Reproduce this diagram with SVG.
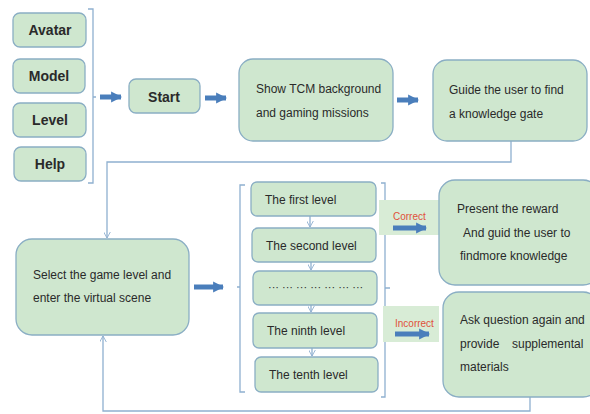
<svg xmlns="http://www.w3.org/2000/svg" width="590" height="414" viewBox="0 0 590 414">
<defs>
<style>
.box{fill:#cfe7cf;stroke:#8aaec4;stroke-width:1.3}
.t{font-family:"Liberation Sans","Open Sans",sans-serif;font-size:12px;fill:#2a2a2a}
.b{font-family:"Liberation Sans","Open Sans",sans-serif;font-size:14px;font-weight:bold;fill:#2a2a2a}
.ln{fill:none;stroke:#8fb0d0;stroke-width:1.3}
.fat{fill:none;stroke:#4a7ebb;stroke-width:5}
.hl{fill:#d8ecd6}
.red{font-family:"Liberation Sans","Open Sans",sans-serif;font-size:10px;fill:#e0503a}
</style>
<marker id="fa" viewBox="0 0 10 10" refX="9" refY="5" markerWidth="2.2" markerHeight="2.6" orient="auto" markerUnits="strokeWidth">
<path d="M0,0 L10,5 L0,10 z" fill="#4a7ebb"/>
</marker>
<marker id="oa" viewBox="0 0 10 10" refX="9" refY="5" markerWidth="7" markerHeight="7" orient="auto" markerUnits="userSpaceOnUse">
<path d="M0,0 L9,5 L0,10" fill="none" stroke="#8fb0d0" stroke-width="1.3"/>
</marker>
</defs>
<rect width="590" height="414" fill="#ffffff"/>
<g id="connectors">
<path class="ln" d="M88,9 H93 V183 H88 M93,97 H96"/>
<path class="ln" d="M245,185 H240 V392 H245 M237,287 H240"/>
<path class="ln" d="M381,183 H385 V397 H381 M385,288 H390"/>
<path class="fat" d="M100,97 H121" marker-end="url(#fa)"/>
<path class="fat" d="M205,98 H226" marker-end="url(#fa)"/>
<path class="fat" d="M397,100 H418" marker-end="url(#fa)"/>
<path class="fat" d="M194,287 H223" marker-end="url(#fa)"/>
<path class="ln" d="M511,141 V162 H107 V238" marker-end="url(#oa)"/>
<path class="ln" d="M530,397 V411 H103 V336" marker-end="url(#oa)"/>
<path class="ln" d="M310,216 V227" marker-end="url(#oa)"/>
<path class="ln" d="M311,262 V270" marker-end="url(#oa)"/>
<path class="ln" d="M311,305 V312" marker-end="url(#oa)"/>
<path class="ln" d="M312,348 V356" marker-end="url(#oa)"/>
<rect class="hl" x="379" y="200" width="60" height="35"/>
<rect class="hl" x="383" y="306" width="56" height="36"/>
<text class="red" x="393" y="220">Correct</text>
<path class="fat" d="M393,228 H426" marker-end="url(#fa)"/>
<text class="red" x="395" y="327">Incorrect</text>
<path class="fat" d="M395,334 H429" marker-end="url(#fa)"/>
</g>
<g id="avatar"><rect class="box" x="13" y="13" width="73" height="34" rx="7"/><text class="b" x="50" y="35" text-anchor="middle">Avatar</text></g>
<g id="model"><rect class="box" x="13" y="59" width="72" height="34" rx="7"/><text class="b" x="49" y="81" text-anchor="middle">Model</text></g>
<g id="level"><rect class="box" x="13" y="103" width="73" height="34" rx="7"/><text class="b" x="50" y="125" text-anchor="middle">Level</text></g>
<g id="help"><rect class="box" x="14" y="147" width="72" height="34" rx="7"/><text class="b" x="50" y="169" text-anchor="middle">Help</text></g>
<g id="start"><rect class="box" x="129" y="79" width="71" height="34" rx="7"/><text class="b" x="164" y="102" text-anchor="middle">Start</text></g>
<g id="show"><rect class="box" x="239" y="59" width="154" height="82" rx="14"/><text class="t" x="256" y="93">Show TCM background</text><text class="t" x="256" y="117">and gaming missions</text></g>
<g id="guide"><rect class="box" x="433" y="60" width="154" height="81" rx="14"/><text class="t" x="449" y="94">Guide the user to find</text><text class="t" x="449" y="118">a knowledge gate</text></g>
<g id="select"><rect class="box" x="16" y="239" width="173" height="96" rx="16"/><text class="t" x="33" y="279">Select the game level and</text><text class="t" x="33" y="302">enter the virtual scene</text></g>
<g id="first"><rect class="box" x="251" y="182" width="125" height="34" rx="6"/><text class="t" x="265" y="204">The first level</text></g>
<g id="second"><rect class="box" x="252" y="228" width="124" height="34" rx="6"/><text class="t" x="266" y="250">The second level</text></g>
<g id="dots"><rect class="box" x="253" y="271" width="124" height="34" rx="6"/><text class="t" x="268" y="291" style="font-size:11px">··· ··· ··· ··· ··· ··· ···</text></g>
<g id="ninth"><rect class="box" x="253" y="313" width="124" height="35" rx="6"/><text class="t" x="267" y="335">The ninth level</text></g>
<g id="tenth"><rect class="box" x="255" y="357" width="123" height="35" rx="6"/><text class="t" x="269" y="379">The tenth level</text></g>
<g id="reward"><rect class="box" x="439" y="180" width="160" height="105" rx="16"/><text class="t" x="457" y="213">Present the reward</text><text class="t" x="463" y="237">And guid the user to</text><text class="t" x="460" y="260">findmore knowledge</text></g>
<g id="ask"><rect class="box" x="443" y="292" width="156" height="105" rx="16"/><text class="t" x="460" y="324">Ask question again and</text><text class="t" x="460" y="348">provide <tspan x="512">supplemental</tspan></text><text class="t" x="460" y="371">materials</text></g>
</svg>
